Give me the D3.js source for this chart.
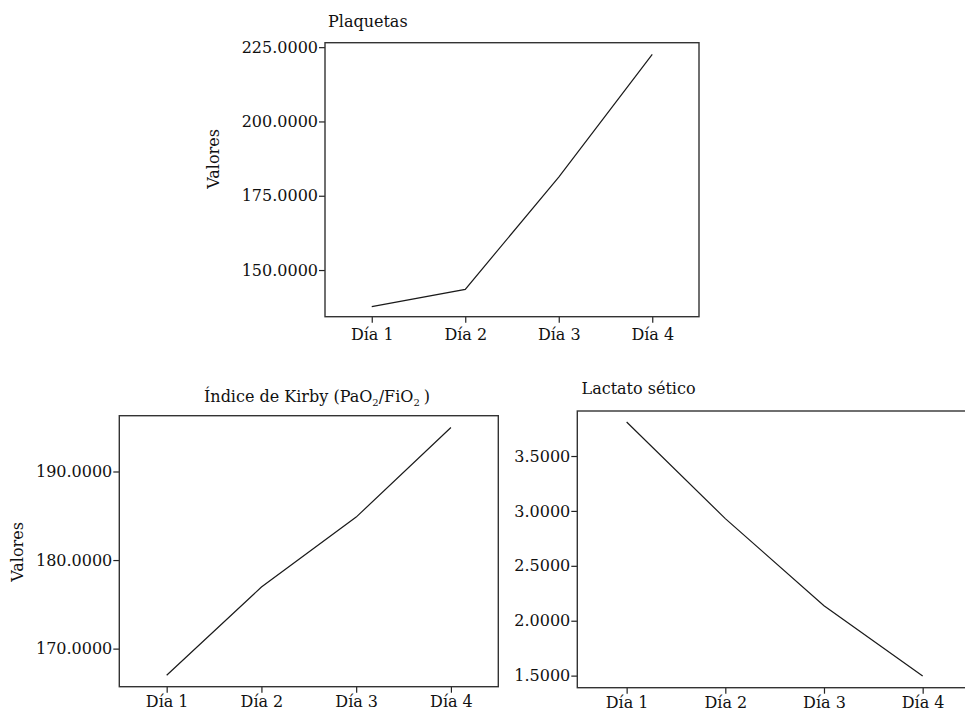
<!DOCTYPE html>
<html>
<head>
<meta charset="utf-8">
<script src="https://cdn.jsdelivr.net/npm/d3@7"></script>
<style>
  body { margin: 0; background: #fff; }
  text { font-family: "DejaVu Serif", "Liberation Serif", serif; fill: #111; }
</style>
</head>
<body>
<svg id="chart" width="965" height="711"></svg>
<script>
// ---- Data ----
const days = ["Día 1", "Día 2", "Día 3", "Día 4"];

const plaquetasValues = [137.7, 143.5, 181.3, 222.6];
const plaquetasTicks = [150, 175, 200, 225];

const kirbyValues = [167.0, 176.95, 184.85, 194.97];
const kirbyTicks = [170, 180, 190];

const lactatoValues = [3.81, 2.93, 2.137, 1.497];
const lactatoTicks = [1.5, 2.0, 2.5, 3.0, 3.5];

// ---- Drawing ----
const svg = d3.select("#chart");
const fmt = d3.format(".4f");

function panel(opts) {
  const g = svg.append("g");
  const x = d3.scalePoint().domain(days).range([opts.x0, opts.x1]).padding(0.5);
  const y = d3.scaleLinear().domain(opts.yDomain).range([opts.y1, opts.y0]);

  // y axis
  const ya = g.append("g")
    .attr("transform", `translate(${opts.x0},0)`)
    .call(d3.axisLeft(y).tickValues(opts.ticks).tickFormat(fmt).tickSize(6).tickPadding(1));
  ya.select(".domain").remove();
  ya.selectAll("line").attr("stroke", "#222").attr("stroke-width", 1.2);
  ya.selectAll("text").attr("font-size", 16).attr("fill", "#111")
    .attr("font-family", "DejaVu Serif, serif");

  // x axis
  const xa = g.append("g")
    .attr("transform", `translate(0,${opts.y1})`)
    .call(d3.axisBottom(x).tickSize(6).tickPadding(opts.xPad));
  xa.select(".domain").remove();
  xa.selectAll("line").attr("stroke", "#222").attr("stroke-width", 1.2);
  xa.selectAll("text").attr("font-size", 16).attr("fill", "#111")
    .attr("font-family", "DejaVu Serif, serif");

  // frame
  g.append("rect")
    .attr("x", opts.x0).attr("y", opts.y0)
    .attr("width", opts.x1 - opts.x0).attr("height", opts.y1 - opts.y0)
    .attr("fill", "none").attr("stroke", "#333").attr("stroke-width", 1.4);

  // line
  const line = d3.line().x((d, i) => x(days[i])).y(d => y(d));
  g.append("path").datum(opts.values)
    .attr("d", line).attr("fill", "none")
    .attr("stroke", "#1a1a1a").attr("stroke-width", 1.2);

  // title
  const t = g.append("text")
    .attr("x", opts.titleX).attr("y", opts.titleY)
    .attr("font-size", 16);
  opts.title(t);

  if (opts.ylabel) {
    g.append("text")
      .attr("transform", `translate(${opts.ylabel[0]},${opts.ylabel[1]}) rotate(-90)`)
      .attr("text-anchor", "middle").attr("dominant-baseline", "middle")
      .attr("font-size", 16)
      .text("Valores");
  }
}

panel({
  x0: 325, x1: 699, y0: 42.7, y1: 316.7,
  yDomain: [134.3, 226.5], ticks: plaquetasTicks, values: plaquetasValues,
  xPad: 5.5, titleX: 328, titleY: 26.5,
  title: t => t.text("Plaquetas"),
  ylabel: [214, 159]
});

panel({
  x0: 119.3, x1: 498.3, y0: 415.7, y1: 686.7,
  yDomain: [165.7, 196.3], ticks: kirbyTicks, values: kirbyValues,
  xPad: 2.6, titleX: 204, titleY: 401.5,
  title: t => {
    t.append("tspan").text("Índice de Kirby (PaO");
    t.append("tspan").attr("font-size", 10).attr("dy", 4).text("2");
    t.append("tspan").attr("dy", -4).text("/FiO");
    t.append("tspan").attr("font-size", 10).attr("dy", 4).text("2");
    t.append("tspan").attr("dy", -4).attr("dx", 4).text(")");
  },
  ylabel: [18, 552]
});

panel({
  x0: 577.3, x1: 972, y0: 411, y1: 687.7,
  yDomain: [1.39, 3.91], ticks: lactatoTicks, values: lactatoValues,
  xPad: 2.6, titleX: 581.5, titleY: 394,
  title: t => t.text("Lactato sético")
});
</script>
</body>
</html>
